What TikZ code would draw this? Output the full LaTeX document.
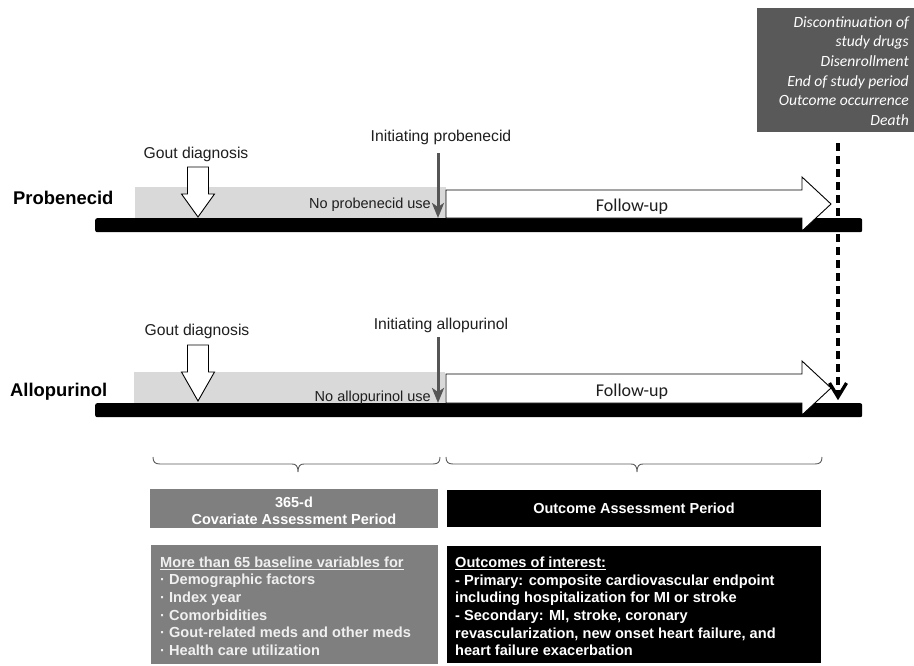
\documentclass[tikz,border=0pt]{standalone}
\usepackage{fontspec}
\setmainfont{Liberation Sans}
\newfontfamily\calibri{Carlito}
\usetikzlibrary{arrows.meta,calc}
\definecolor{dgray}{RGB}{89,89,89}
\definecolor{mgray}{RGB}{127,127,127}
\definecolor{lgray}{RGB}{217,217,217}
\definecolor{arrgray}{RGB}{85,85,85}
\definecolor{txt}{RGB}{30,30,30}
\definecolor{bracegray}{RGB}{90,90,90}
\begin{document}
\begin{tikzpicture}[x=1pt,y=-1pt,
  box/.style={inner sep=0pt, anchor=north west},
  barstyle/.style={box, fill=black, rounded corners=2pt, minimum width=767pt, minimum height=14pt},
  nousestyle/.style={box, fill=lgray, minimum width=311pt, minimum height=31pt},
  blockarr/.style={draw=black, fill=white, line width=0.9pt, line join=miter},
  initarr/.style={draw=arrgray, line width=3pt, -{Stealth[length=15pt,width=12pt,inset=4pt]}},
  enddash/.style={draw=black, line width=3.3pt, dash pattern=on 8pt off 5pt},
  endhead/.style={draw=black, line width=3.3pt, solid, line join=miter, line cap=butt},
  drug/.style={font=\bfseries\fontsize{18.4}{22}\selectfont, text=black, anchor=west, inner sep=0pt},
  goutlbl/.style={font=\fontsize{15.7}{19}\selectfont, text=txt, inner sep=0pt},
  nouselbl/.style={font=\fontsize{14.5}{17}\selectfont, text=txt, anchor=east, inner sep=0pt},
  followlbl/.style={font=\calibri\fontsize{18}{21}\selectfont, text=txt, inner sep=0pt},
  periodbox/.style={inner sep=0pt, font=\bfseries\fontsize{14.5}{17}\selectfont, text=white, align=center},
  listtxt/.style={inner sep=0pt, anchor=west, align=left, font=\bfseries\fontsize{14.6}{17.6}\selectfont, text=white!94!black},
  bracestyle/.style={draw=bracegray, line width=0.9pt}
]
\useasboundingbox (0,0) rectangle (914,665);

% ---------- end-of-follow-up box ----------
\node[box, fill=dgray, minimum width=157pt, minimum height=124pt] (endbox) at (757,8) {};
\node[inner sep=0pt, anchor=east, align=right, text=white,
      font=\calibri\itshape\fontsize{15.6}{19.6}\selectfont] (endtxt) at (909,71)
  {Discontinuation of\\study drugs\\Disenrollment\\End of study period\\Outcome occurrence\\Death};

% ---------- Probenecid row ----------
\node[nousestyle] (nouseP) at (135,187) {};
\node[barstyle] (barP) at (95,218) {};
\node[drug] (drugP) at (13,198) {Probenecid};
\node[goutlbl] (goutP) at (196,154) {Gout diagnosis};
\draw[blockarr] (187.5,167) -- (208.5,167) -- (208.5,194) -- (214.5,194) -- (198,217)
   -- (181.5,194) -- (187.5,194) -- cycle;
\draw[blockarr] (446,218) -- (446,190) -- (802,190) -- (802,177) -- (831,204)
   -- (802,231) -- (802,218) -- cycle;
\node[followlbl] (fuP) at (632,207) {Follow-up};
\node[nouselbl] (nouseTxtP) at (431,205) {No probenecid use};
\node[goutlbl] (initP) at (441,137) {Initiating probenecid};
\coordinate (iPtop) at (438,153);
\draw[initarr] (iPtop) -- (iPtop |- barP.north);

% ---------- Allopurinol row ----------
\node[nousestyle] (nouseA) at (134,372) {};
\node[barstyle] (barA) at (95,403) {};
\node[drug] (drugA) at (10,392) {Allopurinol};
\node[goutlbl] (goutA) at (197,331) {Gout diagnosis};
\draw[blockarr] (187.5,345) -- (208.5,345) -- (208.5,372) -- (214.5,372) -- (198,401)
   -- (181.5,372) -- (187.5,372) -- cycle;
\draw[blockarr] (446,403) -- (446,374) -- (802,374) -- (802,361) -- (831,388)
   -- (802,415) -- (802,403) -- cycle;
\node[followlbl] (fuA) at (632,392) {Follow-up};
\node[nouselbl] (nouseTxtA) at (431,398) {No allopurinol use};
\node[goutlbl] (initA) at (441,325) {Initiating allopurinol};
\coordinate (iAtop) at (438,337);
\draw[initarr] (iAtop) -- (iAtop |- barA.north);

% ---------- end of follow-up dashed arrow ----------
\coordinate (endtop) at (838,143);
\coordinate (endtip) at (838,397);
\draw[enddash] (endtop) -- ($(endtip)+(0,-3)$);
\draw[endhead] ($(endtip)+(-8.5,-14)$) -- (endtip) -- ($(endtip)+(8.5,-14)$);

% ---------- braces ----------
\draw[bracestyle] (153,457) .. controls (153,462) and (155,464) .. (160,464) -- (292,464)
   .. controls (296,464) and (298,466) .. (298,472)
   .. controls (298,466) and (300,464) .. (304,464) -- (433,464)
   .. controls (438,464) and (440,462) .. (440,457);
\draw[bracestyle] (446,457) .. controls (446,462) and (448,464) .. (453,464) -- (631,464)
   .. controls (635,464) and (637,466) .. (637,472)
   .. controls (637,466) and (639,464) .. (643,464) -- (815,464)
   .. controls (820,464) and (822,462) .. (822,457);

% ---------- period boxes ----------
\node[box, fill=mgray, minimum width=288pt, minimum height=39pt] (covbox) at (150,489) {};
\node[periodbox] (covlbl) at (294,510.5) {365-d\\Covariate Assessment Period};
\node[box, fill=black, minimum width=374pt, minimum height=37pt] (outbox) at (447,490) {};
\node[periodbox] (outlbl) at (634,508.5) {Outcome Assessment Period};

% ---------- detail boxes ----------
\node[box, fill=mgray, minimum width=287pt, minimum height=119pt] (covdet) at (151,545) {};
\node[listtxt] (covlist) at (160,606)
  {\underline{More than 65 baseline variables for}\\
   · Demographic factors\\
   · Index year\\
   · Comorbidities\\
   · Gout-related meds and other meds\\
   · Health care utilization};
\node[box, fill=black, minimum width=374pt, minimum height=117pt] (outdet) at (447,546) {};
\node[listtxt, text=white] (outlist) at (455,606.5)
  {\underline{Outcomes of interest:}\\
   - Primary: composite cardiovascular endpoint\\
   including hospitalization for MI or stroke\\
   - Secondary: MI, stroke, coronary\\
   revascularization, new onset heart failure, and\\
   heart failure exacerbation};
\end{tikzpicture}
\end{document}
